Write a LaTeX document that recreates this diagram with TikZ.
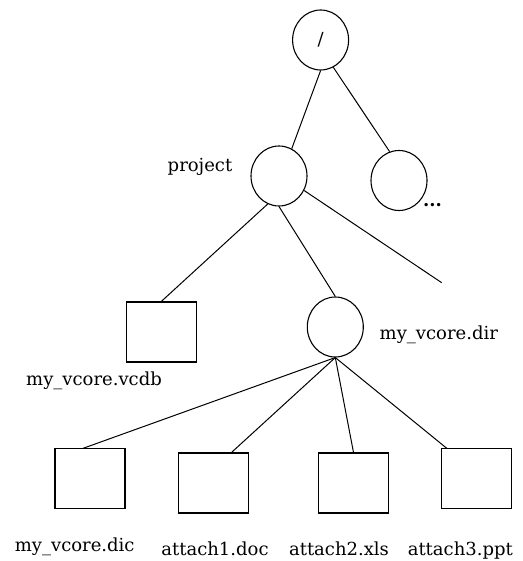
\documentclass[tikz,border=0pt]{standalone}
\usepackage{fontspec}
\setmainfont{DejaVu Serif}
\usetikzlibrary{shapes.geometric,calc}
\begin{document}
\begin{tikzpicture}[x=1pt,y=-1pt,
  dirnode/.style={draw,ellipse,line width=1.1pt,minimum width=56pt,minimum height=60pt,inner sep=0pt},
  filenode/.style={draw,rectangle,line width=1.1pt,minimum width=70pt,minimum height=60pt,inner sep=0pt},
  lbl/.style={font=\fontsize{18}{20}\selectfont,anchor=base,inner sep=0pt},
  edge/.style={line width=1pt}]
\useasboundingbox (0,0) rectangle (522,561);
% directories
\node[dirnode] (root) at (320.6,40) {\fontsize{18}{20}\selectfont /};
\node[dirnode] (proj) at (279,176) {};
\node[dirnode] (other) at (399,180.5) {};
\node[dirnode] (dir) at (335.3,327) {};
% files
\node[filenode] (vcdb) at (161.3,332) {};
\node[filenode] (dic) at (90,478.8) {};
\node[filenode] (a1) at (213.5,483) {};
\node[filenode] (a2) at (353.5,483) {};
\node[filenode] (a3) at (476.3,478.8) {};
\coordinate (free) at (441.7,282.7);
% labels
\node[lbl] (lproj) at (200,172) {project};
\node[lbl] (ldots) at (432.5,207) {\textbf{...}};
\node[lbl] (lvcdb) at (94,385.5) {my\_vcore.vcdb};
\node[lbl] (ldir) at (438.8,339.5) {my\_vcore.dir};
\node[lbl] (ldic) at (74.7,551.5) {my\_vcore.dic};
\node[lbl] (la1) at (215,555) {attach1.doc};
\node[lbl] (la2) at (339,555) {attach2.xls};
\node[lbl] (la3) at (460.3,555) {attach3.ppt};
% connectors
\draw[edge] (root.south) -- (proj.65);
\draw[edge] (root.-65) -- (other.108);
\draw[edge] (proj.-112) -- (vcdb.north);
\draw[edge] (proj.south) -- (dir.north);
\draw[edge] (proj.-30) -- (free);
\draw[edge] (dir.south) -- ($(dic.north)+(-6.7,0)$);
\draw[edge] (dir.south) -- ($(a1.north)+(18,0)$);
\draw[edge] (dir.south) -- (a2.north);
\draw[edge] (dir.south) -- ($(a3.north)+(-29.6,0)$);
\end{tikzpicture}
\end{document}
